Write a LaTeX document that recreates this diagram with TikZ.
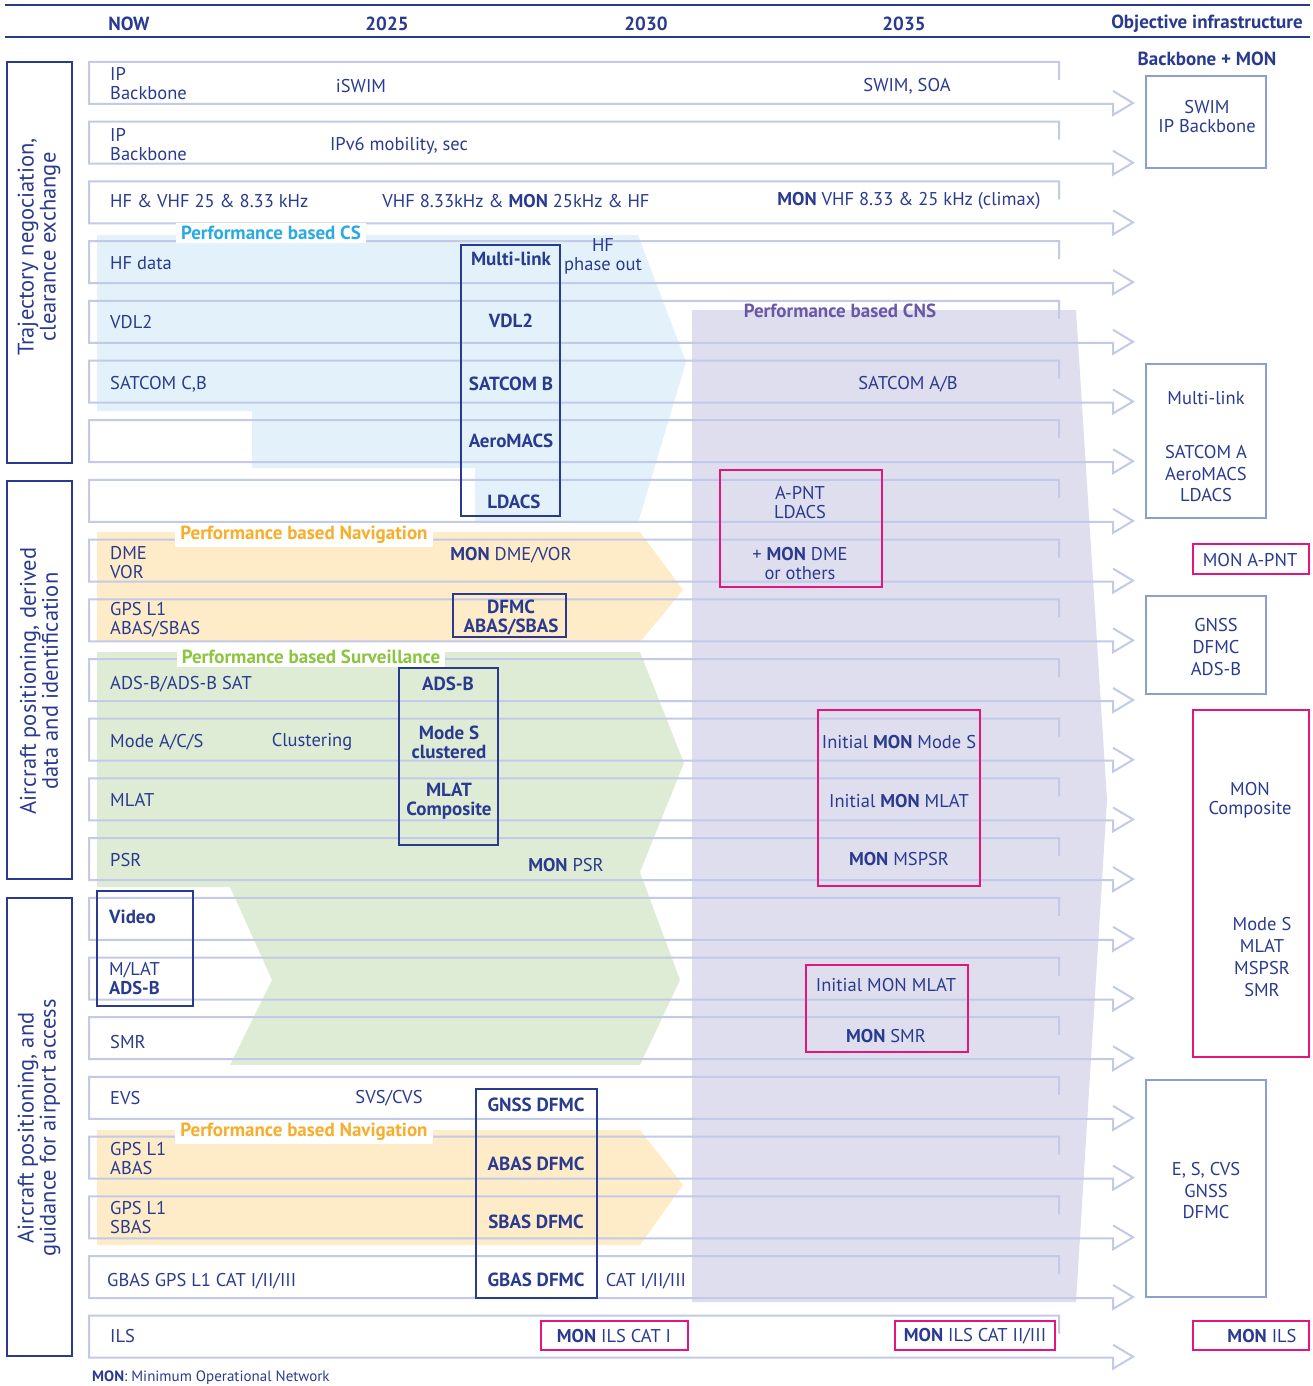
\documentclass[tikz,border=0pt]{standalone}
\usepackage{fontspec}
\setmainfont{PT Sans}
\definecolor{navy}{HTML}{2A3B8F}
\definecolor{rowline}{HTML}{C2CAE8}
\definecolor{csfill}{HTML}{E3F2FA}
\definecolor{navfill}{HTML}{FEEBC8}
\definecolor{survfill}{HTML}{DFECD5}
\definecolor{cnsfill}{HTML}{DEDEEE}
\definecolor{cslabel}{HTML}{2AAAE2}
\definecolor{navlabel}{HTML}{F8AE2B}
\definecolor{survlabel}{HTML}{8CC540}
\definecolor{cnslabel}{HTML}{6A58A6}
\definecolor{monpink}{HTML}{E4157C}
\definecolor{objline}{HTML}{8D9FCB}
\newcommand{\fs}[2]{\fontsize{#1}{#2}\selectfont}
\begin{document}
\begin{tikzpicture}[x=1pt,y=-1pt,
  txt/.style={text=navy, inner sep=0pt, yshift=-1pt, font=\fs{18.5}{19}, align=center},
  ltxt/.style={txt, anchor=west, align=left},
  btxt/.style={txt, font=\bfseries\fs{19}{19}},
  hdr/.style={txt, yshift=-1pt, font=\bfseries\fs{19}{20}},
  navybox/.style={draw=navy, line width=2pt, minimum width=#1},
  monbox/.style={draw=monpink, line width=2pt, minimum width=#1},
  objbox/.style={draw=objline, line width=2.5pt, minimum width=#1},
  catbox/.style={draw=navy, line width=2.5pt, minimum width=65pt},
  cattxt/.style={txt, rotate=90, font=\fs{22.5}{22}},
  perf/.style={fill=white, inner xsep=5pt, inner ysep=3pt, font=\bfseries\fs{19}{19}},
  rowarrow/.style={draw=rowline, line width=2pt}]
\useasboundingbox (0,0) rectangle (1312,1386);

% pale performance areas
\fill[csfill] (97,235) -- (638,235) -- (686,362) -- (638,523) -- (475,523)
  -- (475,468) -- (252,468) -- (252,411) -- (97,411) -- cycle;
\fill[navfill] (97,532) -- (640,532) -- (683,590) -- (640,642) -- (97,642) -- cycle;
\fill[survfill] (97,652) -- (640,652) -- (684,763) -- (640,872) -- (680,980)
  -- (640,1065) -- (230,1065) -- (272,980) -- (230,887) -- (97,887) -- cycle;
\fill[navfill] (97,1130) -- (640,1130) -- (683,1185) -- (640,1245) -- (97,1245) -- cycle;
\fill[cnsfill] (692,310) -- (1076,310) -- (1107,800) -- (1076,1302) -- (692,1302) -- cycle;

% timeline rows
\foreach \k in {0,...,21}{
  \pgfmathsetmacro\T{62+59.7*\k}
  \pgfmathsetmacro\B{\T+42}
  \draw[rowarrow] (1059,\T+18) -- (1059,\T) -- (89,\T) -- (89,\B) -- (1113,\B)
    -- (1113,\B+11) -- (1133,\B-1) -- (1113,\B-13);
}

% header
\draw[navy, line width=2.5pt] (5,5) -- (1310,5);
\draw[navy, line width=2.5pt] (5,37) -- (1310,37);
\node[hdr] (hnow) at (129,22) {NOW};
\node[hdr] (h25) at (387,22) {2025};
\node[hdr] (h30) at (646,22) {2030};
\node[hdr] (h35) at (904,22) {2035};
\node[hdr] (hobj) at (1207,22) {Objective infrastructure};
\node[hdr] (hbb) at (1207,57) {Backbone + MON};

% categories
\node[catbox, minimum height=401pt] (cat1) at (39.5,262.5) {};
\node[catbox, minimum height=398pt] (cat2) at (39.5,680) {};
\node[catbox, minimum height=458pt] (cat3) at (39.5,1127) {};
\node[cattxt] (cat1t) at (39,246) {Trajectory negociation,\\clearance exchange};
\node[cattxt] (cat2t) at (39,680) {Aircraft positioning, derived\\data and identification};
\node[cattxt] (cat3t) at (39,1127) {Aircraft positioning, and\\guidance for airport access};

% performance labels
\node[perf, text=cslabel] (pcs) at (271,233) {Performance based CS};
\node[perf, text=navlabel] (pnav1) at (304,535) {Performance based Navigation};
\node[perf, text=survlabel] (psurv) at (311,657) {Performance based Surveillance};
\node[perf, text=navlabel] (pnav2) at (304,1132) {Performance based Navigation};
\node[txt, font=\bfseries\fs{19}{19}, text=cnslabel] (pcns) at (840,310) {Performance based CNS};

% row texts
\node[ltxt] (r1a) at (110,83) {IP\\Backbone};
\node[txt] (r1b) at (361,85) {iSWIM};
\node[txt] (r1c) at (907,85) {SWIM, SOA};
\node[ltxt] (r2a) at (110,144) {IP\\Backbone};
\node[txt] (r2b) at (399,145) {IPv6 mobility, sec};
\node[ltxt] (r3a) at (110,200) {HF \& VHF 25 \& 8.33 kHz};
\node[txt] (r3b) at (516,200) {VHF 8.33kHz \& \textbf{MON} 25kHz \& HF};
\node[txt] (r3c) at (909,200) {\textbf{MON} VHF 8.33 \& 25 kHz (climax)};
\node[ltxt] (r4a) at (110,262) {HF data};
\node[txt] (r4b) at (603,255) {HF\\phase out};
\node[ltxt] (r5a) at (110,321) {VDL2};
\node[ltxt] (r6a) at (110,383) {SATCOM C,B};
\node[txt] (r6b) at (908,383) {SATCOM A/B};
\node[ltxt] (r9a) at (110,562) {DME\\VOR};
\node[txt] (r9b) at (511,554) {\textbf{MON} DME/VOR};
\node[ltxt] (r10a) at (110,619) {GPS L1\\ABAS/SBAS};
\node[ltxt] (r11a) at (110,683) {ADS-B/ADS-B SAT};
\node[ltxt] (r12a) at (110,741) {Mode A/C/S};
\node[txt] (r12b) at (312,741) {Clustering};
\node[ltxt] (r13a) at (110,799) {MLAT};
\node[ltxt] (r14a) at (110,859) {PSR};
\node[txt] (r14b) at (566,864) {\textbf{MON} PSR};
\node[ltxt] (r17a) at (110,1041) {SMR};
\node[ltxt] (r18a) at (110,1097) {EVS};
\node[txt] (r18b) at (389,1097) {SVS/CVS};
\node[ltxt] (r19a) at (110,1158) {GPS L1\\ABAS};
\node[ltxt] (r20a) at (110,1217) {GPS L1\\SBAS};
\node[ltxt] (r21a) at (107,1280) {GBAS GPS L1 CAT I/II/III};
\node[txt] (r21b) at (646,1280) {CAT I/II/III};
\node[ltxt] (r22a) at (110,1335) {ILS};

% transition columns
\node[navybox=99pt, minimum height=271pt] (mlbox) at (510.5,380.5) {};
\node[btxt] (ml1) at (511,258) {Multi-link};
\node[btxt] (ml2) at (511,320) {VDL2};
\node[btxt] (ml3) at (511,383) {SATCOM B};
\node[btxt] (ml4) at (511,440) {AeroMACS};
\node[btxt] (ml5) at (514,501) {LDACS};

\node[navybox=113pt, minimum height=43pt] (dfbox) at (509.5,615.5) {};
\node[btxt] (df1) at (511,617) {DFMC\\ABAS/SBAS};

\node[navybox=99pt, minimum height=177pt] (adsbox) at (448.5,756.5) {};
\node[btxt] (ad1) at (448,683) {ADS-B};
\node[btxt] (ad2) at (449,741) {Mode S\\clustered};
\node[btxt] (ad3) at (449,800) {MLAT\\Composite};

\node[navybox=96pt, minimum height=115pt] (vidbox) at (145,948.5) {};
\node[ltxt, font=\bfseries\fs{19}{19}] (vid1) at (109,916) {Video};
\node[ltxt] (vid2) at (109,978) {M/LAT\\\textbf{ADS-B}};

\node[navybox=121pt, minimum height=209pt] (gnbox) at (536.5,1193.5) {};
\node[btxt] (gn1) at (536,1104) {GNSS DFMC};
\node[btxt] (gn2) at (536,1163) {ABAS DFMC};
\node[btxt] (gn3) at (536,1221) {SBAS DFMC};
\node[btxt] (gn4) at (536,1279) {GBAS DFMC};

% minimum operational network
\node[monbox=162pt, minimum height=117pt] (apbox) at (801,528.5) {};
\node[txt] (ap1) at (800,502) {A-PNT\\LDACS};
\node[txt] (ap2) at (800,563) {+ \textbf{MON} DME\\or others};
\node[monbox=116pt, minimum height=30pt] (apobj) at (1251,559) {};
\node[txt] (apo) at (1250,559) {MON A-PNT};

\node[monbox=162pt, minimum height=176pt] (inbox) at (899,798) {};
\node[txt] (in1) at (899,741) {Initial \textbf{MON} Mode S};
\node[txt] (in2) at (899,800) {Initial \textbf{MON} MLAT};
\node[txt] (in3) at (899,858) {\textbf{MON} MSPSR};

\node[monbox=116pt, minimum height=347pt] (cmpbox) at (1251,883.5) {};
\node[txt] (cmp1) at (1250,799) {MON\\Composite};
\node[txt, font=\fs{18.5}{21.7}] (cmp2) at (1262,956) {Mode S\\MLAT\\MSPSR\\SMR};

\node[monbox=162pt, minimum height=87pt] (smbox) at (887,1008.5) {};
\node[txt] (sm1) at (886,984) {Initial MON MLAT};
\node[txt] (sm2) at (886,1035) {\textbf{MON} SMR};

\node[monbox=147pt, minimum height=29pt] (ils1) at (614.5,1335.5) {};
\node[txt] (ils1t) at (614,1335) {\textbf{MON} ILS CAT I};
\node[monbox=160pt, minimum height=29pt] (ils2) at (975,1335.5) {};
\node[txt] (ils2t) at (975,1335) {\textbf{MON} ILS CAT II/III};
\node[monbox=116pt, minimum height=29pt] (ils3) at (1251,1335.5) {};
\node[txt] (ils3t) at (1262,1335) {\textbf{MON} ILS};

% objective infrastructure
\node[objbox=120pt, minimum height=92pt] (ob1) at (1206,122) {};
\node[txt] (ob1t) at (1207,116) {SWIM\\IP Backbone};
\node[objbox=120pt, minimum height=154pt] (ob2) at (1206,441) {};
\node[txt] (ob2a) at (1206,397) {Multi-link};
\node[txt, font=\fs{18.5}{21.5}] (ob2b) at (1206,473) {SATCOM A\\AeroMACS\\LDACS};
\node[objbox=120pt, minimum height=98pt] (ob3) at (1206,645) {};
\node[txt, font=\fs{18.5}{22}] (ob3t) at (1216,646) {GNSS\\DFMC\\ADS-B};
\node[objbox=120pt, minimum height=217pt] (ob4) at (1206,1188.5) {};
\node[txt, font=\fs{18.5}{21.5}] (ob4t) at (1206,1190) {E, S, CVS\\GNSS\\DFMC};

% footnote
\node[ltxt, font=\fs{15}{16}] (foot) at (92,1377) {\textbf{MON}: Minimum Operational Network};
\end{tikzpicture}
\end{document}
